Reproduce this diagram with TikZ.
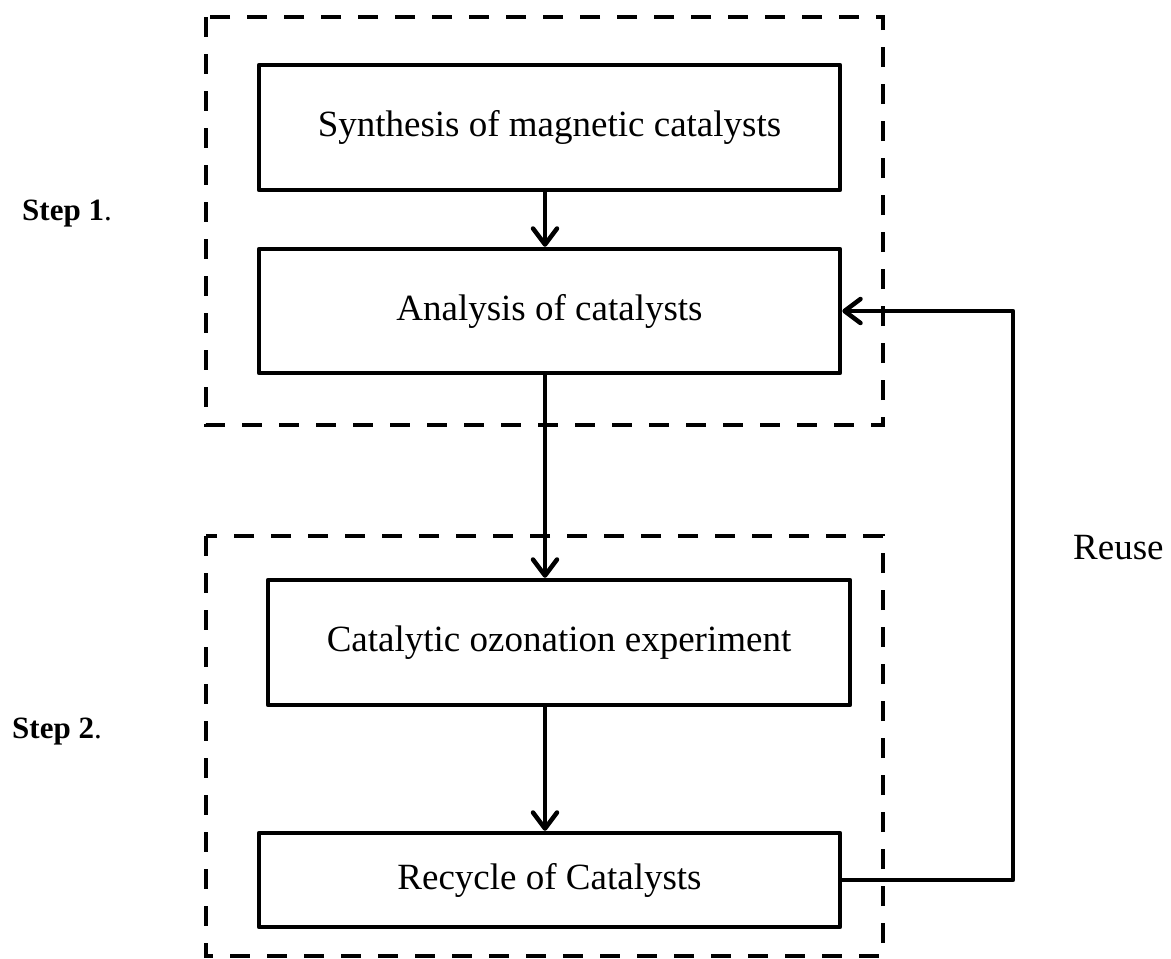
\documentclass[tikz,border=0pt]{standalone}
\usepackage{fontspec}
\setmainfont{Liberation Serif}
\usetikzlibrary{arrows.meta}
\begin{document}
\begin{tikzpicture}[x=1pt,y=-1pt,
  stepbox/.style={draw, line width=4.5pt, line join=round, inner sep=0pt,
    font=\fontsize{37}{44}\selectfont},
  grp/.style={line width=4.5pt, dash pattern=on 20pt off 17pt},
  arr/.style={line width=4.5pt, line cap=round,
    -{Straight Barb[length=16pt,width=24pt,line cap=round,line join=round]}},
  lbl/.style={anchor=base west, inner sep=0pt, font=\fontsize{31}{36}\selectfont}
]
\useasboundingbox (0,0) rectangle (1171,959);
\draw[grp] (206,17) rectangle (883,425);
\draw[grp] (206,536) rectangle (883,956);
\node[stepbox, minimum width=581pt, minimum height=125pt] (syn) at (549.5,127.5) {Synthesis of magnetic catalysts};
\node[stepbox, minimum width=581pt, minimum height=124pt] (ana) at (549.5,311) {Analysis of catalysts};
\node[stepbox, minimum width=582pt, minimum height=125pt] (cat) at (559,642.5) {Catalytic ozonation experiment};
\node[stepbox, minimum width=581pt, minimum height=94pt] (rec) at (549.5,880) {Recycle of Catalysts};
\coordinate (ax) at (545,0);
\coordinate (rx) at (1013,0);
\draw[arr] (syn.south -| ax) -- (ana.north -| ax);
\draw[arr] (ana.south -| ax) -- (cat.north -| ax);
\draw[arr] (cat.south -| ax) -- (rec.north -| ax);
\draw[arr, line join=round] (rec.east) -- (rec.east -| rx) -- (ana.east -| rx) -- (ana.east);
\node[lbl] (s1) at (22,220) {\textbf{Step 1}.};
\node[lbl] (s2) at (12,738) {\textbf{Step 2}.};
\node[anchor=base west, inner sep=0pt, font=\fontsize{37}{44}\selectfont] (reuse) at (1073,559) {Reuse};
\end{tikzpicture}
\end{document}
